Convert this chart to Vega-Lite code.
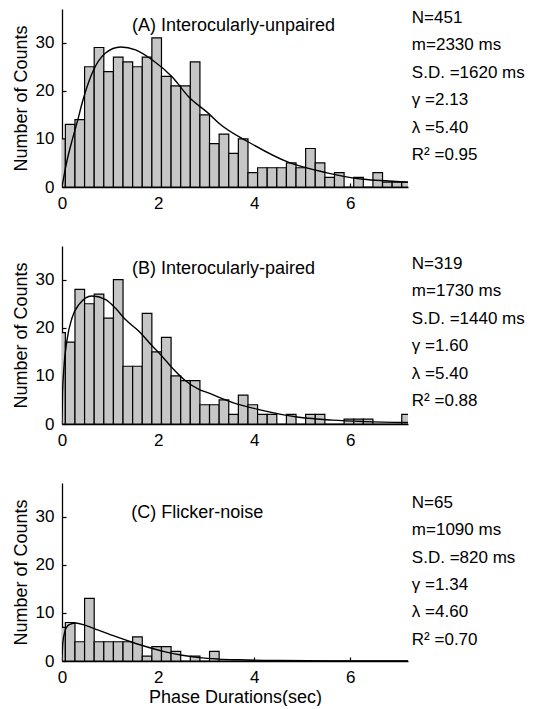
{
  "$schema": "https://vega.github.io/schema/vega-lite/v6.json",
  "padding": {"left": 12, "top": 8, "right": 0, "bottom": 0},
  "bounds": "flush",
  "spacing": 59,
  "config": {
    "font": "Liberation Sans",
    "view": {"stroke": null},
    "axis": {
      "grid": false, "domainColor": "#000", "domainWidth": 1.3, "tickColor": "#000", "tickWidth": 1.2,
      "tickSize": -4, "labelPadding": 12, "labelFlush": false, "labelFontSize": 17, "labelColor": "#000",
      "labelFont": "Liberation Sans", "titleFont": "Liberation Sans", "titleFontSize": 18,
      "titleFontWeight": "normal", "titleColor": "#000"
    },
    "axisY": {"titlePadding": 5},
    "axisX": {"titlePadding": 3},
    "text": {"font": "Liberation Sans", "fontSize": 17, "color": "#000"}
  },
  "datasets": {
    "bins": [
      {"p":"A","x0":-0.13,"x1":0.07,"n":10},{"p":"A","x0":0.07,"x1":0.27,"n":13},{"p":"A","x0":0.27,"x1":0.47,"n":14},{"p":"A","x0":0.47,"x1":0.67,"n":25},{"p":"A","x0":0.67,"x1":0.87,"n":29},{"p":"A","x0":0.87,"x1":1.07,"n":24},{"p":"A","x0":1.07,"x1":1.27,"n":27},{"p":"A","x0":1.27,"x1":1.47,"n":26},{"p":"A","x0":1.47,"x1":1.67,"n":25},{"p":"A","x0":1.67,"x1":1.87,"n":27},{"p":"A","x0":1.87,"x1":2.07,"n":31},{"p":"A","x0":2.07,"x1":2.27,"n":23},{"p":"A","x0":2.27,"x1":2.47,"n":21},{"p":"A","x0":2.47,"x1":2.67,"n":21},{"p":"A","x0":2.67,"x1":2.87,"n":26},{"p":"A","x0":2.87,"x1":3.07,"n":15},{"p":"A","x0":3.07,"x1":3.27,"n":9},{"p":"A","x0":3.27,"x1":3.47,"n":11},{"p":"A","x0":3.47,"x1":3.67,"n":7},{"p":"A","x0":3.67,"x1":3.87,"n":10},{"p":"A","x0":3.87,"x1":4.07,"n":3},{"p":"A","x0":4.07,"x1":4.27,"n":4},{"p":"A","x0":4.27,"x1":4.47,"n":4},{"p":"A","x0":4.47,"x1":4.67,"n":4},{"p":"A","x0":4.67,"x1":4.87,"n":5},{"p":"A","x0":4.87,"x1":5.07,"n":4},{"p":"A","x0":5.07,"x1":5.27,"n":8},{"p":"A","x0":5.27,"x1":5.47,"n":5},{"p":"A","x0":5.47,"x1":5.67,"n":2},{"p":"A","x0":5.67,"x1":5.87,"n":3},{"p":"A","x0":5.87,"x1":6.07,"n":0},{"p":"A","x0":6.07,"x1":6.27,"n":2},{"p":"A","x0":6.27,"x1":6.47,"n":0},{"p":"A","x0":6.47,"x1":6.67,"n":3},{"p":"A","x0":6.67,"x1":6.87,"n":1},{"p":"A","x0":6.87,"x1":7.07,"n":1},{"p":"A","x0":7.07,"x1":7.27,"n":1},
      {"p":"B","x0":-0.13,"x1":0.07,"n":19},{"p":"B","x0":0.07,"x1":0.27,"n":17},{"p":"B","x0":0.27,"x1":0.47,"n":28},{"p":"B","x0":0.47,"x1":0.67,"n":25},{"p":"B","x0":0.67,"x1":0.87,"n":27},{"p":"B","x0":0.87,"x1":1.07,"n":22},{"p":"B","x0":1.07,"x1":1.27,"n":30},{"p":"B","x0":1.27,"x1":1.47,"n":12},{"p":"B","x0":1.47,"x1":1.67,"n":12},{"p":"B","x0":1.67,"x1":1.87,"n":23},{"p":"B","x0":1.87,"x1":2.07,"n":15},{"p":"B","x0":2.07,"x1":2.27,"n":18},{"p":"B","x0":2.27,"x1":2.47,"n":10},{"p":"B","x0":2.47,"x1":2.67,"n":9},{"p":"B","x0":2.67,"x1":2.87,"n":9},{"p":"B","x0":2.87,"x1":3.07,"n":4},{"p":"B","x0":3.07,"x1":3.27,"n":4},{"p":"B","x0":3.27,"x1":3.47,"n":5},{"p":"B","x0":3.47,"x1":3.67,"n":2},{"p":"B","x0":3.67,"x1":3.87,"n":6},{"p":"B","x0":3.87,"x1":4.07,"n":4},{"p":"B","x0":4.07,"x1":4.27,"n":2},{"p":"B","x0":4.27,"x1":4.47,"n":2},{"p":"B","x0":4.47,"x1":4.67,"n":0},{"p":"B","x0":4.67,"x1":4.87,"n":2},{"p":"B","x0":4.87,"x1":5.07,"n":0},{"p":"B","x0":5.07,"x1":5.27,"n":2},{"p":"B","x0":5.27,"x1":5.47,"n":2},{"p":"B","x0":5.47,"x1":5.67,"n":0},{"p":"B","x0":5.67,"x1":5.87,"n":0},{"p":"B","x0":5.87,"x1":6.07,"n":1},{"p":"B","x0":6.07,"x1":6.27,"n":1},{"p":"B","x0":6.27,"x1":6.47,"n":1},{"p":"B","x0":6.47,"x1":6.67,"n":0},{"p":"B","x0":6.67,"x1":6.87,"n":0},{"p":"B","x0":6.87,"x1":7.07,"n":0},{"p":"B","x0":7.07,"x1":7.27,"n":2},
      {"p":"C","x0":-0.13,"x1":0.07,"n":7},{"p":"C","x0":0.07,"x1":0.27,"n":8},{"p":"C","x0":0.27,"x1":0.47,"n":4},{"p":"C","x0":0.47,"x1":0.67,"n":13},{"p":"C","x0":0.67,"x1":0.87,"n":4},{"p":"C","x0":0.87,"x1":1.07,"n":4},{"p":"C","x0":1.07,"x1":1.27,"n":4},{"p":"C","x0":1.27,"x1":1.47,"n":4},{"p":"C","x0":1.47,"x1":1.67,"n":5},{"p":"C","x0":1.67,"x1":1.87,"n":1},{"p":"C","x0":1.87,"x1":2.07,"n":3},{"p":"C","x0":2.07,"x1":2.27,"n":3},{"p":"C","x0":2.27,"x1":2.47,"n":2},{"p":"C","x0":2.47,"x1":2.67,"n":0},{"p":"C","x0":2.67,"x1":2.87,"n":1},{"p":"C","x0":2.87,"x1":3.07,"n":0},{"p":"C","x0":3.07,"x1":3.27,"n":2},{"p":"C","x0":3.27,"x1":3.47,"n":0},{"p":"C","x0":3.47,"x1":3.67,"n":0},{"p":"C","x0":3.67,"x1":3.87,"n":0},{"p":"C","x0":3.87,"x1":4.07,"n":0},{"p":"C","x0":4.07,"x1":4.27,"n":0},{"p":"C","x0":4.27,"x1":4.47,"n":0},{"p":"C","x0":4.47,"x1":4.67,"n":0},{"p":"C","x0":4.67,"x1":4.87,"n":0},{"p":"C","x0":4.87,"x1":5.07,"n":0},{"p":"C","x0":5.07,"x1":5.27,"n":0},{"p":"C","x0":5.27,"x1":5.47,"n":0},{"p":"C","x0":5.47,"x1":5.67,"n":0},{"p":"C","x0":5.67,"x1":5.87,"n":0},{"p":"C","x0":5.87,"x1":6.07,"n":0},{"p":"C","x0":6.07,"x1":6.27,"n":0},{"p":"C","x0":6.27,"x1":6.47,"n":0},{"p":"C","x0":6.47,"x1":6.67,"n":0},{"p":"C","x0":6.67,"x1":6.87,"n":0},{"p":"C","x0":6.87,"x1":7.07,"n":0},{"p":"C","x0":7.07,"x1":7.27,"n":0}
    ],
    "fit": [
      {"p":"A","t":0,"f":0},{"p":"A","t":0.05,"f":2.8},{"p":"A","t":0.1,"f":5.3},{"p":"A","t":0.2,"f":9.3},{"p":"A","t":0.33,"f":14},{"p":"A","t":0.42,"f":17.5},{"p":"A","t":0.62,"f":23.5},{"p":"A","t":0.9,"f":27.8},{"p":"A","t":1.22,"f":29.1},{"p":"A","t":1.53,"f":28.5},{"p":"A","t":1.88,"f":26.4},{"p":"A","t":2.29,"f":22.9},{"p":"A","t":2.64,"f":18.7},{"p":"A","t":3.06,"f":15.2},{"p":"A","t":3.26,"f":13.3},{"p":"A","t":3.89,"f":9.3},{"p":"A","t":4.72,"f":5.1},{"p":"A","t":5.49,"f":3.0},{"p":"A","t":6.28,"f":1.6},{"p":"A","t":6.8,"f":1.25},{"p":"A","t":7.2,"f":1.0},
      {"p":"B","t":0,"f":0},{"p":"B","t":0.01,"f":6},{"p":"B","t":0.035,"f":11},{"p":"B","t":0.1,"f":17.2},{"p":"B","t":0.21,"f":22.1},{"p":"B","t":0.35,"f":24.8},{"p":"B","t":0.62,"f":26.6},{"p":"B","t":0.9,"f":25.9},{"p":"B","t":1.11,"f":24.1},{"p":"B","t":1.32,"f":21.7},{"p":"B","t":1.6,"f":19.3},{"p":"B","t":1.88,"f":16.2},{"p":"B","t":2.08,"f":14.1},{"p":"B","t":2.29,"f":11.7},{"p":"B","t":2.57,"f":9.0},{"p":"B","t":2.85,"f":7.2},{"p":"B","t":3.06,"f":6.4},{"p":"B","t":3.54,"f":4.5},{"p":"B","t":4.1,"f":3.0},{"p":"B","t":4.93,"f":1.4},{"p":"B","t":5.63,"f":0.8},{"p":"B","t":6.3,"f":0.5},{"p":"B","t":7.2,"f":0.3},
      {"p":"C","t":0,"f":0},{"p":"C","t":0.015,"f":3.6},{"p":"C","t":0.056,"f":6},{"p":"C","t":0.14,"f":7.5},{"p":"C","t":0.28,"f":7.9},{"p":"C","t":0.49,"f":7.4},{"p":"C","t":0.76,"f":6.4},{"p":"C","t":1.11,"f":5.1},{"p":"C","t":1.46,"f":3.9},{"p":"C","t":1.81,"f":2.8},{"p":"C","t":2.15,"f":1.9},{"p":"C","t":2.5,"f":1.2},{"p":"C","t":2.85,"f":0.7},{"p":"C","t":3.26,"f":0.4},{"p":"C","t":3.68,"f":0.25},{"p":"C","t":4.5,"f":0.1},{"p":"C","t":5.5,"f":0.03},{"p":"C","t":7.2,"f":0}
    ],
    "notes": [
      {"p":"A","title":"(A) Interocularly-unpaired","lines":["N=451","m=2330 ms","S.D. =1620 ms","γ =2.13","λ =5.40","R² =0.95"]},
      {"p":"B","title":"(B) Interocularly-paired","lines":["N=319","m=1730 ms","S.D. =1440 ms","γ =1.60","λ =5.40","R² =0.88"]},
      {"p":"C","title":"(C) Flicker-noise","lines":["N=65","m=1090 ms","S.D. =820 ms","γ =1.34","λ =4.60","R² =0.70"]}
    ]
  },
  "vconcat": [
    {
      "width": 346, "height": 178,
      "layer": [
        {"data": {"name": "bins"}, "transform": [{"filter": "datum.p === 'A'"}],
         "mark": {"type": "rect", "fill": "#c6c6c6", "stroke": "#000", "strokeWidth": 1.2, "clip": true},
         "encoding": {
           "x": {"field": "x0", "type": "quantitative", "scale": {"domain": [0, 7.2], "nice": false, "zero": false}, "axis": {"values": [0, 2, 4, 6], "title": null}},
           "x2": {"field": "x1"},
           "y": {"field": "n", "type": "quantitative", "scale": {"domain": [0, 37], "nice": false}, "axis": {"values": [0, 10, 20, 30], "title": "Number of Counts"}},
           "y2": {"datum": 0}}},
        {"data": {"name": "fit"}, "transform": [{"filter": "datum.p === 'A'"}],
         "mark": {"type": "line", "color": "#000", "strokeWidth": 1.4, "interpolate": "monotone", "clip": true},
         "encoding": {"x": {"field": "t", "type": "quantitative"}, "y": {"field": "f", "type": "quantitative"}}},
        {"data": {"name": "notes"}, "transform": [{"filter": "datum.p === 'A'"}],
         "mark": {"type": "text", "align": "left", "baseline": "middle", "fontSize": 18},
         "encoding": {"x": {"datum": 1.457}, "y": {"datum": 33.5}, "text": {"field": "title", "type": "nominal"}}},
        {"data": {"name": "notes"}, "transform": [{"filter": "datum.p === 'A'"}],
         "mark": {"type": "text", "align": "left", "baseline": "middle", "lineHeight": 27.4},
         "encoding": {"x": {"datum": 7.28}, "y": {"datum": 35.13}, "text": {"field": "lines", "type": "nominal"}}}
      ]
    },
    {
      "width": 346, "height": 178,
      "layer": [
        {"data": {"name": "bins"}, "transform": [{"filter": "datum.p === 'B'"}],
         "mark": {"type": "rect", "fill": "#c6c6c6", "stroke": "#000", "strokeWidth": 1.2, "clip": true},
         "encoding": {
           "x": {"field": "x0", "type": "quantitative", "scale": {"domain": [0, 7.2], "nice": false, "zero": false}, "axis": {"values": [0, 2, 4, 6], "title": null}},
           "x2": {"field": "x1"},
           "y": {"field": "n", "type": "quantitative", "scale": {"domain": [0, 37], "nice": false}, "axis": {"values": [0, 10, 20, 30], "title": "Number of Counts"}},
           "y2": {"datum": 0}}},
        {"data": {"name": "fit"}, "transform": [{"filter": "datum.p === 'B'"}],
         "mark": {"type": "line", "color": "#000", "strokeWidth": 1.4, "interpolate": "monotone", "clip": true},
         "encoding": {"x": {"field": "t", "type": "quantitative"}, "y": {"field": "f", "type": "quantitative"}}},
        {"data": {"name": "notes"}, "transform": [{"filter": "datum.p === 'B'"}],
         "mark": {"type": "text", "align": "left", "baseline": "middle", "fontSize": 18},
         "encoding": {"x": {"datum": 1.457}, "y": {"datum": 32.16}, "text": {"field": "title", "type": "nominal"}}},
        {"data": {"name": "notes"}, "transform": [{"filter": "datum.p === 'B'"}],
         "mark": {"type": "text", "align": "left", "baseline": "middle", "lineHeight": 27.4},
         "encoding": {"x": {"datum": 7.28}, "y": {"datum": 33.26}, "text": {"field": "lines", "type": "nominal"}}}
      ]
    },
    {
      "width": 346, "height": 178,
      "layer": [
        {"data": {"name": "bins"}, "transform": [{"filter": "datum.p === 'C'"}],
         "mark": {"type": "rect", "fill": "#c6c6c6", "stroke": "#000", "strokeWidth": 1.2, "clip": true},
         "encoding": {
           "x": {"field": "x0", "type": "quantitative", "scale": {"domain": [0, 7.2], "nice": false, "zero": false}, "axis": {"values": [0, 2, 4, 6], "title": "Phase Durations(sec)"}},
           "x2": {"field": "x1"},
           "y": {"field": "n", "type": "quantitative", "scale": {"domain": [0, 37], "nice": false}, "axis": {"values": [0, 10, 20, 30], "title": "Number of Counts"}},
           "y2": {"datum": 0}}},
        {"data": {"name": "fit"}, "transform": [{"filter": "datum.p === 'C'"}],
         "mark": {"type": "line", "color": "#000", "strokeWidth": 1.4, "interpolate": "monotone", "clip": true},
         "encoding": {"x": {"field": "t", "type": "quantitative"}, "y": {"field": "f", "type": "quantitative"}}},
        {"data": {"name": "notes"}, "transform": [{"filter": "datum.p === 'C'"}],
         "mark": {"type": "text", "align": "left", "baseline": "middle", "fontSize": 18},
         "encoding": {"x": {"datum": 1.44}, "y": {"datum": 30.7}, "text": {"field": "title", "type": "nominal"}}},
        {"data": {"name": "notes"}, "transform": [{"filter": "datum.p === 'C'"}],
         "mark": {"type": "text", "align": "left", "baseline": "middle", "lineHeight": 27.4},
         "encoding": {"x": {"datum": 7.28}, "y": {"datum": 32.9}, "text": {"field": "lines", "type": "nominal"}}}
      ]
    }
  ]
}
